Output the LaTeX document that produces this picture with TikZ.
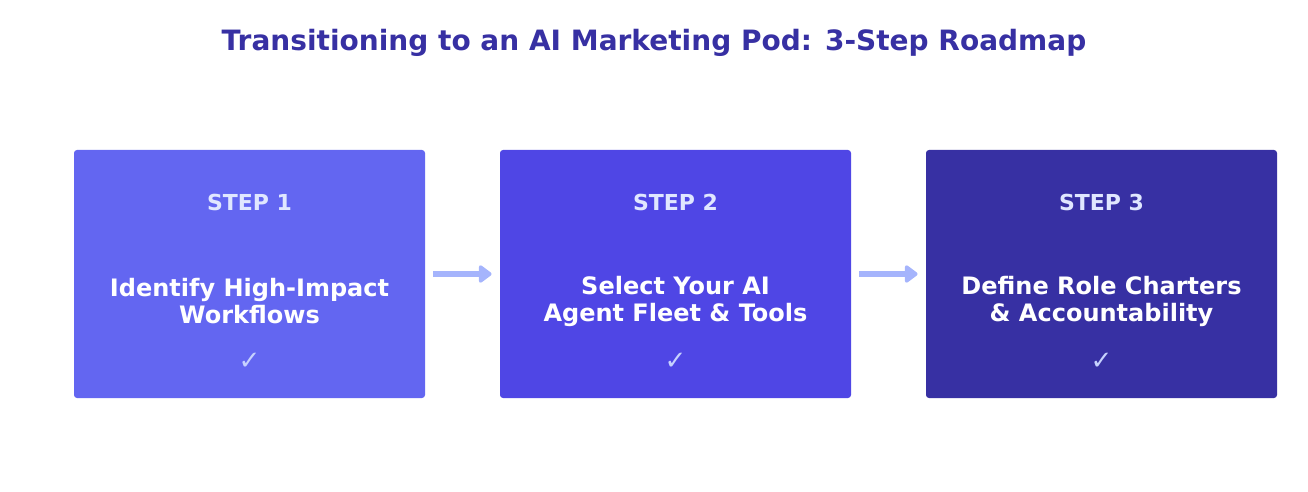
\documentclass[tikz,border=0pt]{standalone}
\usepackage{fontspec}
\setmainfont{DejaVu Sans}
\usetikzlibrary{arrows.meta}
\definecolor{c1}{HTML}{6366F1}
\definecolor{c2}{HTML}{4F46E5}
\definecolor{c3}{HTML}{3730A3}
\definecolor{steptxt}{HTML}{E0E7FF}
\definecolor{chk}{HTML}{C7D2FE}
\definecolor{arr}{HTML}{A5B4FC}
\begin{document}
\begin{tikzpicture}[x=0.5pt,y=-0.5pt,
  box/.style={rounded corners=1.5pt,inner sep=0pt,minimum width=175.5pt,minimum height=124pt},
  steplbl/.style={text=steptxt,font=\bfseries\fontsize{11}{13}\selectfont},
  body/.style={text=white,font=\bfseries\fontsize{12}{13.5}\selectfont,align=center},
  chkm/.style={text=chk,font=\fontsize{13}{14}\selectfont},
  conn/.style={draw=arr,line width=3pt,-{Triangle[length=7pt,width=10pt,round]}}]
\useasboundingbox (0,0) rectangle (1308,492);
\node (title) at (654,43) {\textcolor{c3}{\bfseries\fontsize{14}{16}\selectfont Transitioning to an AI Marketing Pod: 3-Step Roadmap}};
\foreach \i/\x/\c/\t in {1/249.5/c1/{Identify High-Impact\\Workflows},2/675.5/c2/{Select Your AI\\Agent Fleet \& Tools},3/1101.5/c3/{Define Role Charters\\\& Accountability}}{
  \node[box,fill=\c] (b\i) at (\x,274) {};
  \node[steplbl] (s\i) at (\x,202) {STEP \i};
  \node[body] (t\i) at (\x,301) {\t};
  \node[chkm] (k\i) at (\x,361) {✓};
}
\draw[conn] ([xshift=4pt]b1.east) -- ([xshift=-4pt]b2.west);
\draw[conn] ([xshift=4pt]b2.east) -- ([xshift=-4pt]b3.west);
\end{tikzpicture}
\end{document}
